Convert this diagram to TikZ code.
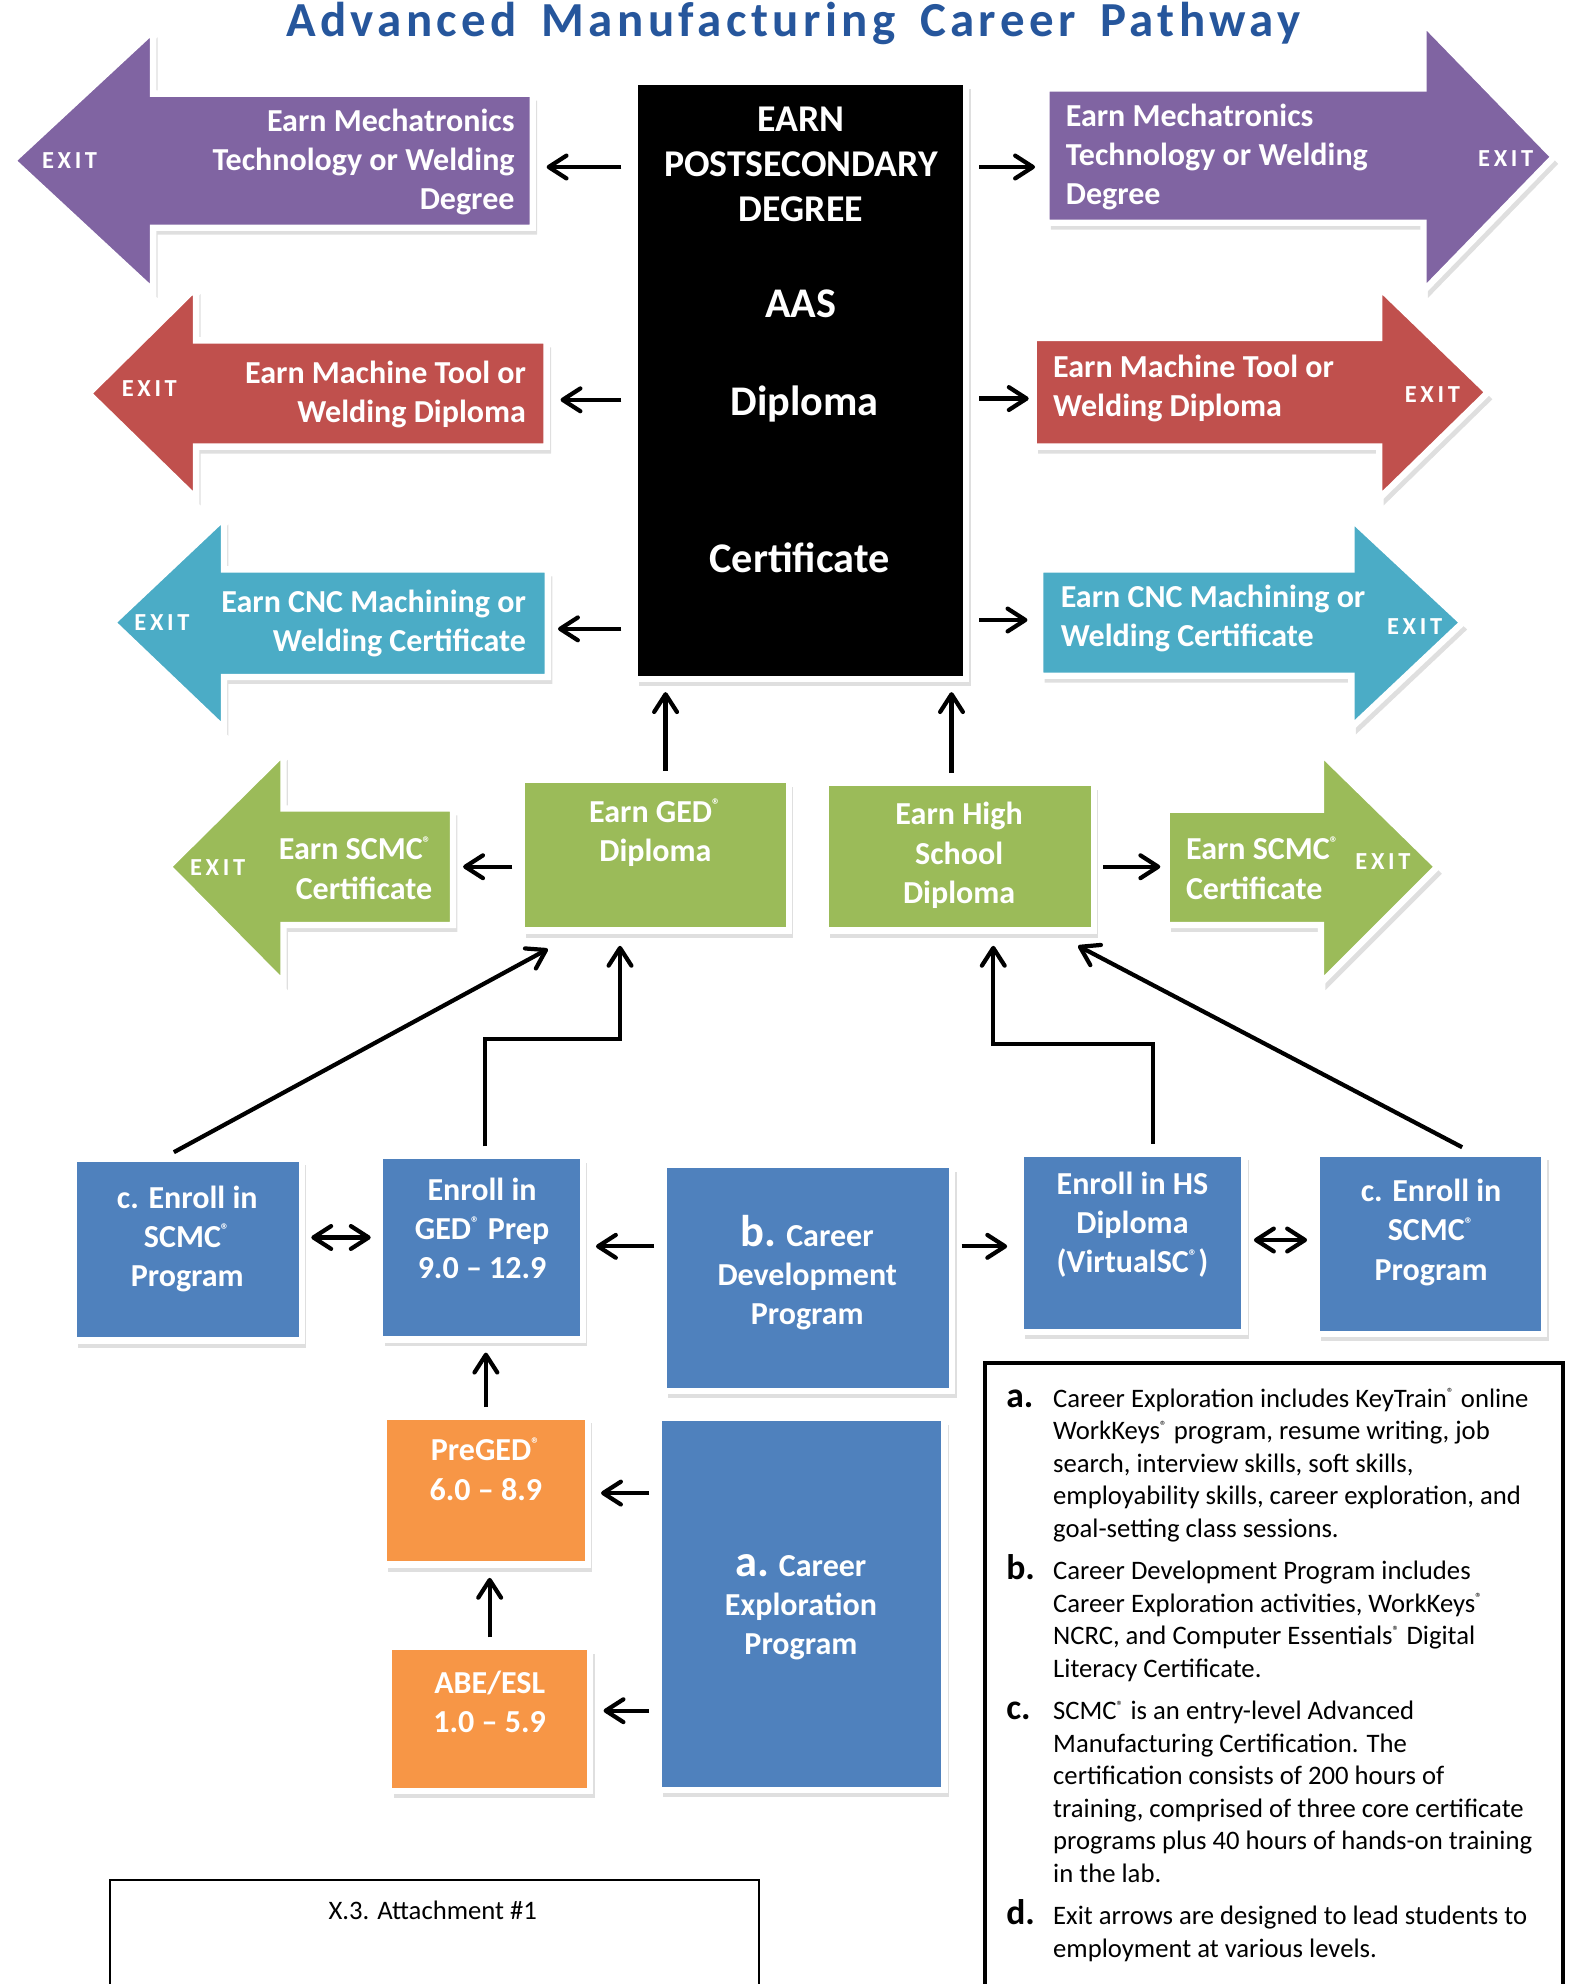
\documentclass[tikz,border=0pt]{standalone}
\usepackage{graphicx}
\usepackage{fontspec}
\setmainfont{Carlito}
\newfontfamily\titlefont[LetterSpace=9,WordSpace=1.6]{Carlito}
\newfontfamily\exitfont[LetterSpace=15]{Carlito}
\usetikzlibrary{arrows.meta,positioning,shadows}

\definecolor{mechpurple}{RGB}{128,100,162}
\definecolor{toolred}{RGB}{192,80,77}
\definecolor{cncblue}{RGB}{75,172,198}
\definecolor{scmcgreen}{RGB}{155,187,89}
\definecolor{enrollblue}{RGB}{79,129,189}
\definecolor{preporange}{RGB}{247,150,70}
\definecolor{titleblue}{RGB}{38,86,156}

\newcommand{\regd}{\textsuperscript{\scalebox{0.75}{®}}}
\newcommand{\itemltr}[1]{\smash{\textbf{\fontsize{16}{16}\selectfont #1}}}

\tikzset{
  boxshadow/.style={drop shadow={shadow xshift=0.7mm,shadow yshift=-1.1mm,opacity=0.25}},
  exitshape/.style={boxshadow,draw=white,line width=1mm,line join=miter},
  box/.style={boxshadow,draw=white,line width=1mm,inner sep=0pt},
  wh/.style 2 args={minimum width=#1*0.2mm,minimum height=#2*0.2mm},
  boxtxt/.style={text=white,font=\bfseries\fontsize{14.4}{17.6}\selectfont,align=center,inner sep=0pt},
  exitword/.style={text=white,font=\exitfont\bfseries\fontsize{11}{13}\selectfont,inner sep=0pt},
  degreetxt/.style={text=white,font=\bfseries\fontsize{17}{20.4}\selectfont,align=center,inner sep=0pt},
  leveltxt/.style={text=white,font=\bfseries\fontsize{19}{23}\selectfont,inner sep=0pt},
  notestxt/.style={font=\fontsize{12}{14.6}\selectfont,inner sep=0pt},
  conn/.style={line width=1.9pt,-{Straight Barb[length=2.8mm,width=3.6mm,round]},shorten <=1mm,shorten >=1.6mm},
  dconn/.style={line width=1.9pt,{Straight Barb[length=2.8mm,width=3.6mm,round]}-{Straight Barb[length=2.8mm,width=3.6mm,round]},shorten <=1mm,shorten >=1mm},
  toexit/.style={conn,shorten <=1.6mm,shorten >=0pt},
}

\begin{document}
\begin{tikzpicture}[x=0.2mm,y=-0.2mm]
\useasboundingbox (0,0) rectangle (1242,1568);

% title
\node[text=titleblue,font=\titlefont\bfseries\fontsize{22}{26}\selectfont,anchor=base] (title) at (627,29) {Advanced Manufacturing Career Pathway};

% postsecondary block
\node[box,fill=black,wh={262}{472}] (earn) at (632.5,300.5) {};
\node[degreetxt] (earntxt) at (633,130) {EARN\\POSTSECONDARY\\DEGREE};
\node[leveltxt] (aas) at (633,240) {AAS};
\node[leveltxt] (diploma) at (636,319) {Diploma};
\node[leveltxt] (certificate) at (632,441) {Certificate};

% exit arrows, left side
\path[exitshape,fill=mechpurple] (421,74) -- (121,74) -- (121,24) -- (10,127) -- (121,230) -- (121,180) -- (421,180) -- cycle;
\node[boxtxt,align=right,anchor=east] (mechLtxt) at (407,128) {Earn Mechatronics\\Technology or Welding\\Degree};
\node[exitword] (mechLexit) at (55,127) {EXIT};
\coordinate (mechL) at (432,132);

\path[exitshape,fill=toolred] (432,269) -- (155,269) -- (155,227) -- (70,311) -- (155,394) -- (155,353) -- (432,353) -- cycle;
\node[boxtxt,align=right,anchor=east] (toolLtxt) at (416,312) {Earn Machine Tool or\\Welding Diploma};
\node[exitword] (toolLexit) at (118,307) {EXIT};
\coordinate (toolL) at (443,316);

\path[exitshape,fill=cncblue] (433,450) -- (177,450) -- (177,409) -- (89,492) -- (177,576) -- (177,535) -- (433,535) -- cycle;
\node[boxtxt,align=right,anchor=east] (cncLtxt) at (416,493) {Earn CNC Machining or\\Welding Certificate};
\node[exitword] (cncLexit) at (128,492) {EXIT};
\coordinate (cncL) at (441,497);

\path[exitshape,fill=scmcgreen] (358,639) -- (224,639) -- (224,595) -- (133,685) -- (224,777) -- (224,731) -- (358,731) -- cycle;
\node[boxtxt,align=right,anchor=east] (scmcLtxt) at (342,686) {Earn SCMC\regd\\Certificate};
\node[exitword] (scmcLexit) at (172,686) {EXIT};
\coordinate (scmcL) at (366,685);

% exit arrows, right side
\path[exitshape,fill=mechpurple] (827,70) -- (1125,70) -- (1125,18) -- (1228,124) -- (1125,230) -- (1125,176) -- (827,176) -- cycle;
\node[boxtxt,align=left,anchor=west] (mechRtxt) at (842,124) {Earn Mechatronics\\Technology or Welding\\Degree};
\node[exitword] (mechRexit) at (1190,125) {EXIT};
\coordinate (mechR) at (818,132);

\path[exitshape,fill=toolred] (817,267) -- (1090,267) -- (1090,227) -- (1176,310) -- (1090,394) -- (1090,353) -- (817,353) -- cycle;
\node[boxtxt,align=left,anchor=west] (toolRtxt) at (832,307) {Earn Machine Tool or\\Welding Diploma};
\node[exitword] (toolRexit) at (1132,312) {EXIT};
\coordinate (toolR) at (813,315);

\path[exitshape,fill=cncblue] (822,450) -- (1068,450) -- (1068,410) -- (1156,492) -- (1068,575) -- (1068,534) -- (822,534) -- cycle;
\node[boxtxt,align=left,anchor=west] (cncRtxt) at (838,489) {Earn CNC Machining or\\Welding Certificate};
\node[exitword] (cncRexit) at (1118,495) {EXIT};
\coordinate (cncR) at (812,490);

\path[exitshape,fill=scmcgreen] (922,640) -- (1044,640) -- (1044,595) -- (1136,685) -- (1044,777) -- (1044,731) -- (922,731) -- cycle;
\node[boxtxt,align=left,anchor=west] (scmcRtxt) at (937,686) {Earn SCMC\regd\\Certificate};
\node[exitword] (scmcRexit) at (1093,681) {EXIT};
\coordinate (scmcR) at (917,685);

% diplomas
\node[box,fill=scmcgreen,wh={211}{119}] (gedbox) at (518,676) {};
\node[boxtxt] (gedtxt) at (518,658) {Earn GED\regd\\Diploma};
\node[box,fill=scmcgreen,wh={212}{117}] (hsbox) at (758.5,677) {};
\node[boxtxt] (hstxt) at (758,676) {Earn High\\School\\Diploma};

% programs
\node[box,fill=enrollblue,wh={180}{144}] (scmcprogL) at (148.5,987.5) {};
\node[boxtxt] (scmcprogLtxt) at (148,979) {c. Enroll in\\SCMC\regd\\Program};
\node[box,fill=enrollblue,wh={160}{145}] (gedprep) at (380.5,986) {};
\node[boxtxt] (gedpreptxt) at (381,971) {Enroll in\\GED\regd\ Prep\\9.0 -- 12.9};
\node[box,fill=enrollblue,wh={228}{179}] (careerdev) at (638.5,1010) {};
\node[boxtxt] (careerdevtxt) at (638,1006) {{\fontsize{20}{20}\selectfont b.} Career\\Development\\Program};
\node[box,fill=enrollblue,wh={177}{141}] (hsenroll) at (895,982) {};
\node[boxtxt] (hsenrolltxt) at (895,968) {Enroll in HS\\Diploma\\(VirtualSC\regd)};
\node[box,fill=enrollblue,wh={180}{143}] (scmcprogR) at (1130.5,983) {};
\node[boxtxt] (scmcprogRtxt) at (1131,974) {c. Enroll in\\SCMC\regd\\Program};

\node[box,fill=preporange,wh={161}{117}] (preged) at (384,1178) {};
\node[boxtxt] (pregedtxt) at (384,1161) {PreGED\regd\\6.0 -- 8.9};
\node[box,fill=preporange,wh={159}{114}] (abe) at (387,1358.5) {};
\node[boxtxt] (abetxt) at (387,1345) {ABE/ESL\\1.0 -- 5.9};
\node[box,fill=enrollblue,wh={226}{294}] (careerexp) at (633.5,1267.5) {};
\node[boxtxt] (careerexptxt) at (633,1270) {{\fontsize{20}{20}\selectfont a.} Career\\Exploration\\Program};

% notes and attachment
\node[draw,line width=0.6mm,anchor=north west,wh={457}{540},inner sep=0pt] (notes) at (777,1076) {};
\node[notestxt,anchor=north west] (notestxt) at (795,1094) {%
\begin{tabular}{@{}p{7.4mm}@{}l@{}}
\itemltr{a.} & Career Exploration includes KeyTrain\regd\ online\\
 & WorkKeys\regd\ program, resume writing, job\\
 & search, interview skills, soft skills,\\
 & employability skills, career exploration, and\\
 & goal-setting class sessions.\\[1.6mm]
\itemltr{b.} & Career Development Program includes\\
 & Career Exploration activities, WorkKeys\regd\\
 & NCRC, and Computer Essentials\regd\ Digital\\
 & Literacy Certificate.\\[1.6mm]
\itemltr{c.} & SCMC\regd\ is an entry-level Advanced\\
 & Manufacturing Certification. The\\
 & certification consists of 200 hours of\\
 & training, comprised of three core certificate\\
 & programs plus 40 hours of hands-on training\\
 & in the lab.\\[1.6mm]
\itemltr{d.} & Exit arrows are designed to lead students to\\
 & employment at various levels.
\end{tabular}};
\node[draw,line width=0.3mm,anchor=north west,wh={513}{120},inner sep=0pt] (attach) at (86,1485) {};
\node[notestxt] (attachtxt) at (342,1510) {X.3. Attachment \#1};

% to the exits
\draw[toexit] (earn.west |- mechL) -- (mechL);
\draw[toexit] (earn.east |- mechR) -- (mechR);
\draw[toexit] (earn.west |- toolL) -- (toolL);
\draw[toexit] (earn.east |- toolR) -- (toolR);
\draw[toexit] (earn.west |- cncL) -- (cncL);
\draw[toexit] (earn.east |- cncR) -- (cncR);
\draw[toexit,shorten <=1mm] (gedbox.west |- scmcL) -- (scmcL);
\draw[toexit,shorten <=1mm] (hsbox.east |- scmcR) -- (scmcR);

% up to the degree
\draw[conn] ([xshift=1.6mm]gedbox.north) -- ([xshift=1.6mm]gedbox.north |- earn.south);
\draw[conn] ([xshift=-1.3mm]hsbox.north) -- ([xshift=-1.3mm]hsbox.north |- earn.south);

% pathways to the diplomas
\draw[conn,shorten >=0pt] ([xshift=-3.1mm]scmcprogL.north) -- ([xshift=-17mm,yshift=-2.4mm]gedbox.south);
\draw[conn,shorten >=0pt] ([xshift=0.5mm]gedprep.north) -- ++(0,-90) -| ([xshift=-5.6mm,yshift=-1.9mm]gedbox.south);
\draw[conn,shorten >=0pt] ([xshift=3.2mm]hsenroll.north) -- ++(0,-84) -| ([xshift=5.3mm,yshift=-1.9mm]hsbox.south);
\draw[conn,shorten >=0pt] ([xshift=5.9mm]scmcprogR.north) -- ([xshift=18.7mm,yshift=-1.9mm]hsbox.south);

% between programs
\draw[dconn] (scmcprogL.east |- 0,978) -- (gedprep.west |- 0,978);
\draw[conn] (careerdev.west |- 0,985) -- (gedprep.east |- 0,985);
\draw[conn] (careerdev.east |- 0,985) -- (hsenroll.west |- 0,985);
\draw[dconn] (hsenroll.east |- 0,980) -- (scmcprogR.west |- 0,980);
\draw[conn] (preged.north) -- (preged.north |- gedprep.south);
\draw[conn] (abe.north) -- (abe.north |- preged.south);
\draw[conn] (careerexp.west |- 0,1180) -- (preged.east |- 0,1180);
\draw[conn] (careerexp.west |- 0,1352) -- (abe.east |- 0,1352);
\end{tikzpicture}
\end{document}
